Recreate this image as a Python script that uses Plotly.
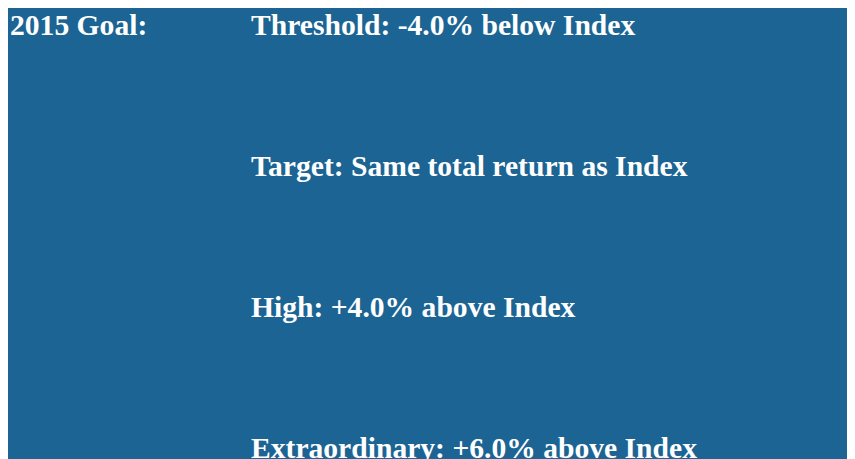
import plotly.graph_objects as go

heading = "2015 Goal:"
goal_labels = [
    "Threshold: -4.0% below Index",
    "Target: Same total return as Index",
    "High: +4.0% above Index",
    "Extraordinary: +6.0% above Index",
]
goal_rows = [0, 1, 2, 3]

W, H = 855, 459
BLUE = "#1c6493"
row_y0 = 17
row_step = 141
font = dict(family="Liberation Serif, Times New Roman, serif", size=29.6, color="white")

fig = go.Figure()
fig.add_shape(type="rect", x0=0, x1=840, y0=-5, y1=470, xref="x", yref="y",
              fillcolor=BLUE, line=dict(width=0), layer="below")

annotations = [dict(x=0, y=row_y0, text="<b>" + heading + "</b>", xref="x", yref="y",
                    xanchor="left", yanchor="middle", showarrow=False, font=font)]
for r, lab in zip(goal_rows, goal_labels):
    annotations.append(dict(x=241, y=row_y0 + r * row_step, text="<b>" + lab + "</b>",
                            xref="x", yref="y", xanchor="left", yanchor="middle",
                            showarrow=False, font=font))

fig.update_layout(
    width=W, height=H,
    margin=dict(l=0, r=0, t=0, b=0),
    paper_bgcolor="white", plot_bgcolor="white",
    xaxis=dict(range=[0, W], visible=False, fixedrange=True),
    yaxis=dict(range=[H, 0], visible=False, fixedrange=True),
    annotations=annotations,
    showlegend=False,
)
fig.write_html("out.html")
